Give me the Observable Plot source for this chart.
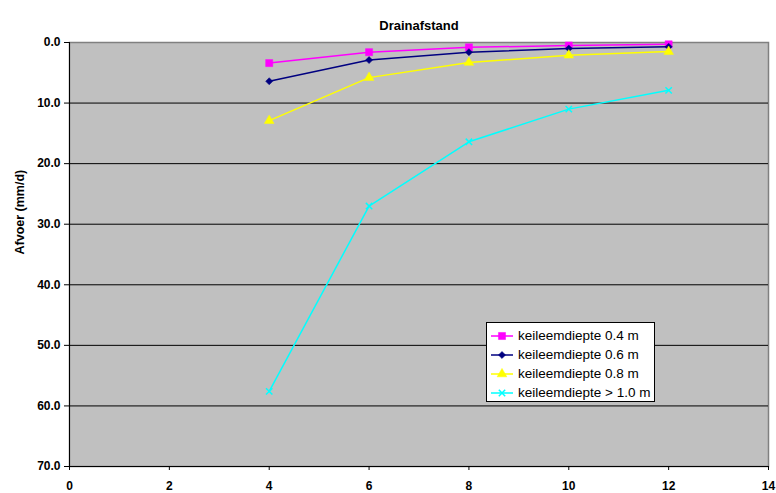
<!DOCTYPE html>
<html>
<head>
<meta charset="utf-8">
<script src="https://cdn.jsdelivr.net/npm/d3@7"></script>
<script src="https://cdn.jsdelivr.net/npm/@observablehq/plot@0.6"></script>
<style>
  html, body { margin: 0; padding: 0; background: #fff; }
  #chart { position: relative; width: 776px; height: 493px; font-family: "Liberation Sans", Arial, sans-serif; }
  #legend {
    position: absolute; left: 486px; top: 322px; width: 169px; height: 80px;
    background: #fff; border: 1px solid #000; box-sizing: border-box;
    padding-top: 3px;
  }
  #legend .row { display: flex; align-items: center; height: 19px; font-size: 13.5px; color: #000; white-space: nowrap; }
  #legend svg { display: block; margin-left: 3px; margin-right: 4px; }
</style>
</head>
<body>
<div id="chart"></div>
<script>
// Drain spacing (m) against discharge (mm/d) for four boulder-clay depths
const spacing = [4, 6, 8, 10, 12];
const depth04 = [3.4, 1.6, 0.8, 0.5, 0.3];
const depth06 = [6.4, 2.9, 1.6, 1.0, 0.7];
const depth08 = [12.9, 5.8, 3.3, 2.1, 1.5];
const depth10 = [57.6, 27.0, 16.4, 11.0, 7.9];

const seriesNames = ["keileemdiepte 0.4 m", "keileemdiepte 0.6 m", "keileemdiepte 0.8 m", "keileemdiepte > 1.0 m"];
const seriesValues = [depth04, depth06, depth08, depth10];
const seriesColors = ["#FF00FF", "#000080", "#FFFF00", "#00FFFF"];
const seriesSymbols = ["square", "diamond2", "triangle", "times"];
const seriesRadius = [4, 3.2, 3.6, 3];

const xTicks = [0, 2, 4, 6, 8, 10, 12, 14];
const yTicks = [0, 10, 20, 30, 40, 50, 60, 70];
const gridValues = [10, 20, 30, 40, 50, 60];

const rows = seriesNames.flatMap((name, i) =>
  spacing.map((x, j) => ({series: name, x, y: seriesValues[i][j]}))
);

const colorScale = {domain: seriesNames, range: seriesColors};

const marksForSeries = seriesNames.flatMap((name, i) => {
  const data = rows.filter(d => d.series === name);
  const filled = seriesSymbols[i] !== "times";
  return [
    Plot.line(data, {x: "x", y: "y", stroke: seriesColors[i], strokeWidth: 1.5}),
    Plot.dot(data, {
      x: "x", y: "y", symbol: () => seriesSymbols[i], r: seriesRadius[i],
      fill: filled ? seriesColors[i] : "none",
      stroke: seriesColors[i], strokeWidth: filled ? 0.5 : 1.5
    })
  ];
});

const chart = Plot.plot({
  width: 776,
  height: 493,
  marginTop: 42,
  marginLeft: 69,
  marginRight: 8,
  marginBottom: 27,
  style: {fontFamily: "'Liberation Sans', Arial, sans-serif", background: "#fff", overflow: "visible"},
  x: {domain: [0, 14], ticks: xTicks},
  y: {domain: [0, 70], reverse: true, ticks: yTicks},
  symbol: {type: "identity"},
  marks: [
    Plot.frame({fill: "#C0C0C0", stroke: "#808080", strokeWidth: 1.5}),
    Plot.ruleY(gridValues, {stroke: "#000", strokeWidth: 1}),
    Plot.ruleX([0], {stroke: "#000", strokeWidth: 1}),
    Plot.ruleY([70], {stroke: "#000", strokeWidth: 1}),
    Plot.axisY({
      ticks: yTicks, tickFormat: d3.format(".1f"), tickSize: 5, tickPadding: 4,
      fontSize: 12, fontWeight: "bold", label: null, stroke: "#000", fill: "#000"
    }),
    Plot.axisX({
      ticks: xTicks, tickFormat: d3.format("d"), tickSize: 4, tickPadding: 11,
      fontSize: 12, fontWeight: "bold", label: null, stroke: "#000", fill: "#000"
    }),
    ...marksForSeries,
    Plot.text(["Drainafstand"], {
      frameAnchor: "top", dy: -22, fontSize: 13, fontWeight: "bold", fill: "#000"
    }),
    Plot.text(["Afvoer (mm/d)"], {
      frameAnchor: "left", dx: -50, rotate: -90, fontSize: 12.5, fontWeight: "bold", fill: "#000"
    })
  ]
});

const host = document.getElementById("chart");
host.appendChild(chart);

// Legend box inside the plot area
const legend = document.createElement("div");
legend.id = "legend";
seriesNames.forEach((name, i) => {
  const row = document.createElement("div");
  row.className = "row";
  const sw = d3.create("svg").attr("width", 24).attr("height", 12);
  sw.append("line").attr("x1", 1).attr("x2", 23).attr("y1", 6).attr("y2", 6)
    .attr("stroke", seriesColors[i]).attr("stroke-width", 1.5);
  const symMap = {square: d3.symbolSquare, diamond2: d3.symbolDiamond2, triangle: d3.symbolTriangle, times: d3.symbolTimes};
  const size = Math.PI * seriesRadius[i] * seriesRadius[i];
  const filled = seriesSymbols[i] !== "times";
  sw.append("path").attr("transform", "translate(12,6)")
    .attr("d", d3.symbol(symMap[seriesSymbols[i]], size)())
    .attr("fill", filled ? seriesColors[i] : "none")
    .attr("stroke", seriesColors[i]).attr("stroke-width", filled ? 0.5 : 1.5);
  row.appendChild(sw.node());
  const label = document.createElement("span");
  label.textContent = name;
  row.appendChild(label);
  legend.appendChild(row);
});
host.appendChild(legend);
</script>
</body>
</html>
